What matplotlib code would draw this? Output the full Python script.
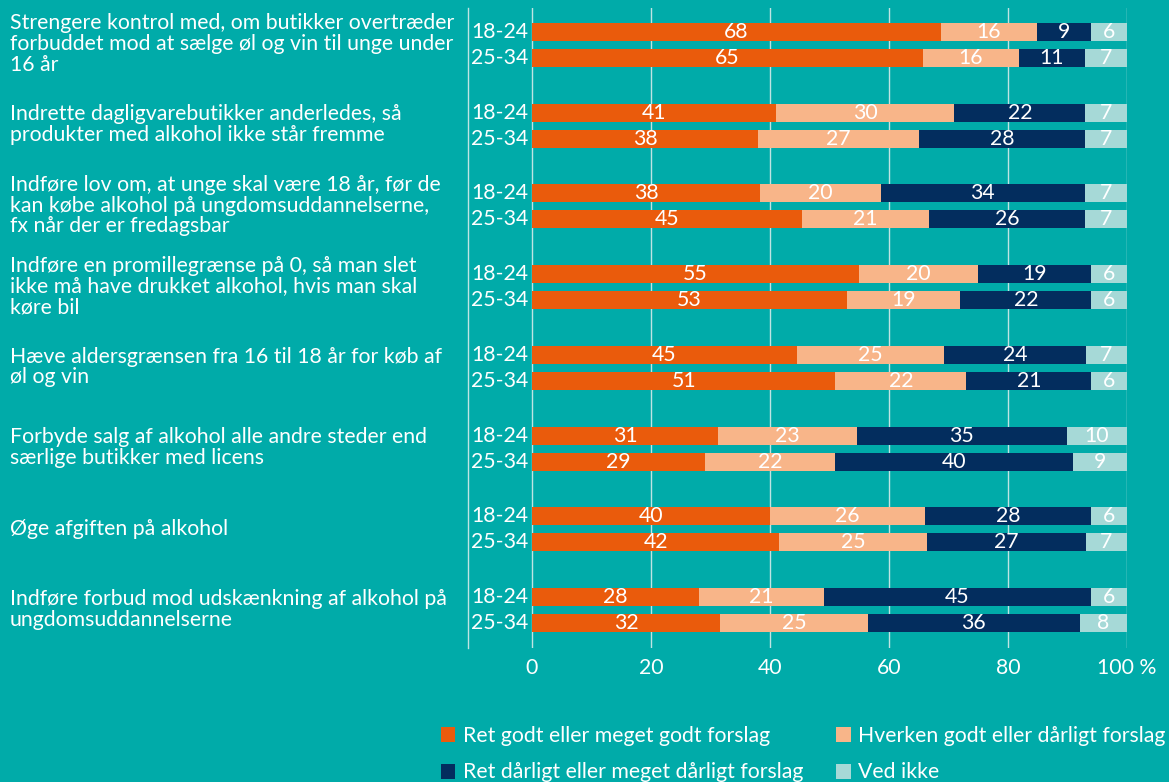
import matplotlib
matplotlib.use("Agg")
import matplotlib.pyplot as plt
import matplotlib.transforms as mtransforms
import numpy as np

plt.rcParams['font.family'] = ['Lato', 'DejaVu Sans']

categories = [
    "Strengere kontrol med, om butikker overtræder\nforbuddet mod at sælge øl og vin til unge under\n16 år",
    "Indrette dagligvarebutikker anderledes, så\nprodukter med alkohol ikke står fremme",
    "Indføre lov om, at unge skal være 18 år, før de\nkan købe alkohol på ungdomsuddannelserne,\nfx når der er fredagsbar",
    "Indføre en promillegrænse på 0, så man slet\nikke må have drukket alkohol, hvis man skal\nkøre bil",
    "Hæve aldersgrænsen fra 16 til 18 år for køb af\nøl og vin",
    "Forbyde salg af alkohol alle andre steder end\nsærlige butikker med licens",
    "Øge afgiften på alkohol",
    "Indføre forbud mod udskænkning af alkohol på\nungdomsuddannelserne",
]
age_groups = ["18-24", "25-34"]
series = ["Ret godt eller meget godt forslag",
          "Hverken godt eller dårligt forslag",
          "Ret dårligt eller meget dårligt forslag",
          "Ved ikke"]

# values per category: [good, neither, bad, don't know]
vals_18_24 = [
    [68, 16, 9, 6],
    [41, 30, 22, 7],
    [38, 20, 34, 7],
    [55, 20, 19, 6],
    [45, 25, 24, 7],
    [31, 23, 35, 10],
    [40, 26, 28, 6],
    [28, 21, 45, 6],
]
vals_25_34 = [
    [65, 16, 11, 7],
    [38, 27, 28, 7],
    [45, 21, 26, 7],
    [53, 19, 22, 6],
    [51, 22, 21, 6],
    [29, 22, 40, 9],
    [42, 25, 27, 7],
    [32, 25, 36, 8],
]
xticks = [0, 20, 40, 60, 80, 100]
xticklabels = ["0", "20", "40", "60", "80", "100 %"]

colors = ["#EA5B0C", "#F8B589", "#032D5E", "#A6D9D7"]
bg = "#00ABA9"
fs = 15.3

fig = plt.figure(figsize=(11.69, 7.82), dpi=100, facecolor=bg)
ax = fig.add_axes([468/1169, 1-648/782, (1127-468)/1169, 640/782])
ax.set_facecolor(bg)

offset = 0.161
bar_h = 0.223
handles = []
for g in range(len(categories)):
    for r, data in enumerate([vals_18_24, vals_25_34]):
        v = np.array(data[g], dtype=float)
        w = v / v.sum() * 100
        y = g + (-offset if r == 0 else offset)
        left = 0.0
        for s in range(4):
            b = ax.barh(y, w[s], left=left, height=bar_h, color=colors[s],
                        edgecolor="none", zorder=3)
            if g == 0 and r == 0:
                handles.append(b)
            ax.text(left + w[s]/2, y, str(int(v[s])), ha="center", va="center",
                    color="white", fontsize=fs, zorder=4)
            left += w[s]
        ax.text(-0.7, y, age_groups[r], ha="right", va="center",
                color="white", fontsize=fs)

ax.set_xlim(-10.75, 100)
ax.set_ylim(7.47, -0.458)
ax.set_xticks(xticks)
ax.set_xticklabels(xticklabels, color="white", fontsize=fs)
ax.tick_params(axis="x", length=0, pad=7)
ax.set_yticks([])
for sp in ["top", "right", "bottom"]:
    ax.spines[sp].set_visible(False)
ax.spines["left"].set_color("#BFE4E3")
ax.spines["left"].set_linewidth(1)
for t in xticks:
    ax.axvline(t, color="#BFE4E3", linewidth=1, zorder=1)

trans = mtransforms.blended_transform_factory(fig.transFigure, ax.transData)
for g, lab in enumerate(categories):
    ax.text(10/1169, g - 0.01, lab, transform=trans, ha="left", va="center",
            color="white", fontsize=fs, linespacing=1.05)

order = [0, 2, 1, 3]
leg = fig.legend([handles[i] for i in order], [series[i] for i in order],
                 loc="upper left", bbox_to_anchor=(432/1169, 1-717/782),
                 ncol=2, frameon=False, fontsize=fs, handlelength=0.7,
                 handleheight=0.7, handletextpad=0.35, columnspacing=1.55,
                 labelspacing=0.8, borderaxespad=0)
for t in leg.get_texts():
    t.set_color("white")

fig.savefig("out.png", dpi=100, facecolor=bg)
